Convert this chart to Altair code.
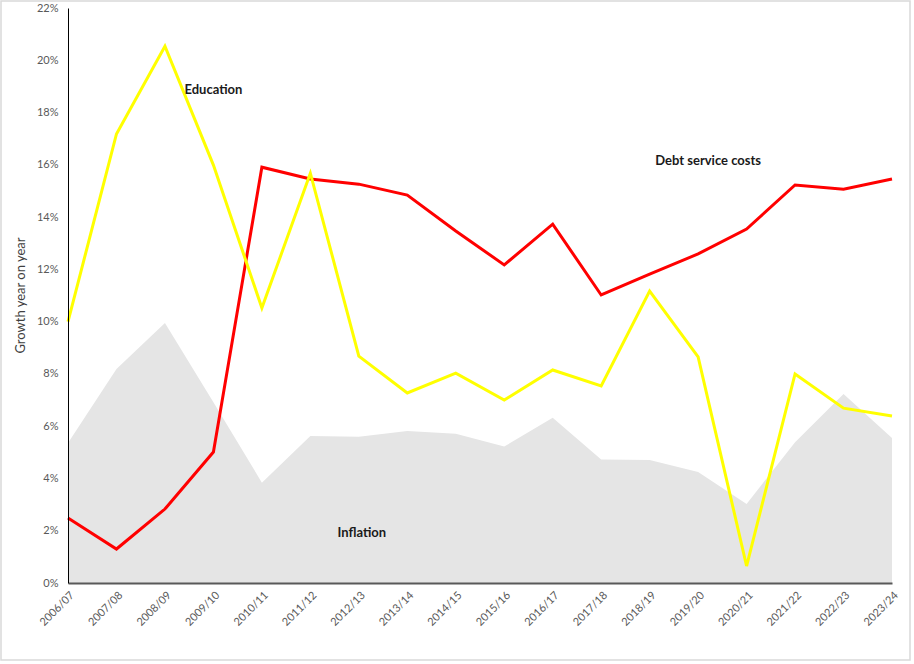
import altair as alt
import pandas as pd

years = ["2006/07", "2007/08", "2008/09", "2009/10", "2010/11", "2011/12", "2012/13",
         "2013/14", "2014/15", "2015/16", "2016/17", "2017/18", "2018/19", "2019/20",
         "2020/21", "2021/22", "2022/23", "2023/24"]
education = [10.0, 17.18, 20.54, 15.99, 10.52, 15.68, 8.68, 7.27, 8.03, 7.0,
             8.15, 7.54, 11.17, 8.65, 0.65, 8.0, 6.69, 6.39]
debt = [2.49, 1.3, 2.83, 5.01, 15.91, 15.46, 15.26, 14.84, 13.47, 12.17,
        13.73, 11.02, 11.82, 12.59, 13.54, 15.23, 15.07, 15.46]
inflation = [5.36, 8.19, 9.95, 6.92, 3.84, 5.62, 5.60, 5.82, 5.71, 5.22,
             6.32, 4.73, 4.71, 4.25, 3.02, 5.39, 7.23, 5.55]
y_ticks = [0, 2, 4, 6, 8, 10, 12, 14, 16, 18, 20, 22]

FONT = "Lato"

df = pd.DataFrame({
    "year": years,
    "Education": [v / 100 for v in education],
    "Debt": [v / 100 for v in debt],
    "Inflation": [v / 100 for v in inflation],
})

x_enc = alt.X(
    "year:O", sort=years,
    scale=alt.Scale(type="point", padding=0),
    axis=alt.Axis(
        title=None, labelAngle=315, labelFontSize=11, labelColor="#595959",
        labelFont=FONT, ticks=False, domainColor="#595959", domainWidth=2,
        labelPadding=6, grid=False, zindex=1,
    ),
)
y_scale = alt.Scale(domain=[0, 0.22], nice=False)
y_axis = alt.Axis(
    title="Growth year on year", format=".0%", values=[t / 100 for t in y_ticks],
    labelFontSize=11, labelColor="#595959", labelFont=FONT, ticks=False,
    domainColor="#000000", domainWidth=1, grid=False, labelPadding=10, zindex=1,
    titleFont=FONT, titleFontSize=13, titleFontWeight="normal", titleColor="#404040",
    titleX=-48, titleY=287, titleAngle=270, titleAlign="center", titleBaseline="middle",
)

base = alt.Chart(df)

area = base.mark_area(color="#e5e5e5").encode(
    x=x_enc,
    y=alt.Y("Inflation:Q", scale=y_scale, axis=y_axis),
)
red = base.mark_line(color="#ff0000", strokeWidth=3).encode(
    x=x_enc, y=alt.Y("Debt:Q", scale=y_scale),
)
yellow = base.mark_line(color="#ffff00", strokeWidth=3).encode(
    x=x_enc, y=alt.Y("Education:Q", scale=y_scale),
)

def label(text, year, value, dx):
    return alt.Chart(pd.DataFrame({"t": [text]})).mark_text(
        font=FONT, fontSize=13, fontWeight="bold", color="#1a1a1a",
        align="center", baseline="middle", dx=dx,
    ).encode(
        x=alt.datum(year, type="ordinal"),
        y=alt.datum(value),
        text="t:N",
    )

edu_lbl = label("Education", "2009/10", 0.1886, 0)
debt_lbl = label("Debt service costs", "2019/20", 0.1614, 10)
inf_lbl = label("Inflation", "2012/13", 0.0191, 3)

border = alt.Chart(pd.DataFrame({"a": [0]})).mark_rect(
    fillOpacity=0, stroke="#d9d9d9", strokeWidth=1.5
).encode(
    x=alt.value(-67), x2=alt.value(842), y=alt.value(-7), y2=alt.value(652)
)

chart = alt.layer(area, red, yellow, edu_lbl, debt_lbl, inf_lbl, border).properties(
    width=824, height=575,
    autosize=alt.AutoSizeParams(type="none"),
    padding={"left": 68, "top": 8, "right": 22, "bottom": 81},
    background="white",
).configure_view(stroke=None)

chart.save("out.html", embed_options={"renderer": "svg", "actions": False})
